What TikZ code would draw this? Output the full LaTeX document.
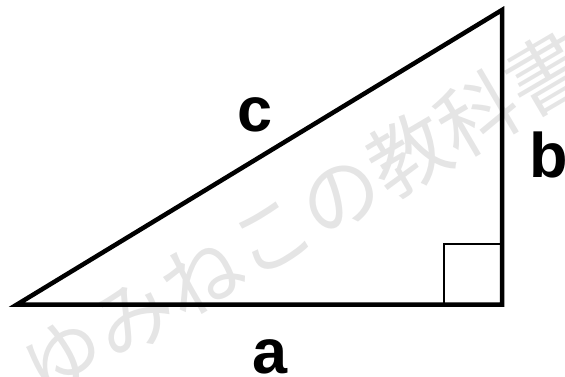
\documentclass[tikz,border=0pt]{standalone}
\usepackage{fontspec}
\setmainfont{Liberation Sans}
\newfontfamily\jpfont{Noto Sans CJK JP}
\begin{document}
\begin{tikzpicture}[x=1pt,y=1pt,
  side/.style={line width=4.5pt, line join=miter},
  rightmark/.style={line width=1.3pt},
  lbl/.style={font=\fontsize{63}{63}\selectfont\bfseries, inner sep=0pt},
  wmark/.style={font=\jpfont\fontsize{80}{80}\selectfont, text=black!10, inner sep=0pt}]
\useasboundingbox (0,0) rectangle (565,376);
\node[wmark, rotate=30.4] (wm) at (305,161) {ゆみねこの教科書};
\coordinate (A) at (17,71.5);
\coordinate (B) at (502,71.5);
\coordinate (C) at (502,366);
\coordinate (R) at (444,132);
\draw[rightmark] (R) rectangle (B);
\draw[side] (A) -- (B) -- (C) -- cycle;
\node[lbl] (lc) at (255,261) {c};
\node[lbl] (lb) at (549,221) {b};
\node[lbl] (la) at (270,19) {a};
\end{tikzpicture}
\end{document}
